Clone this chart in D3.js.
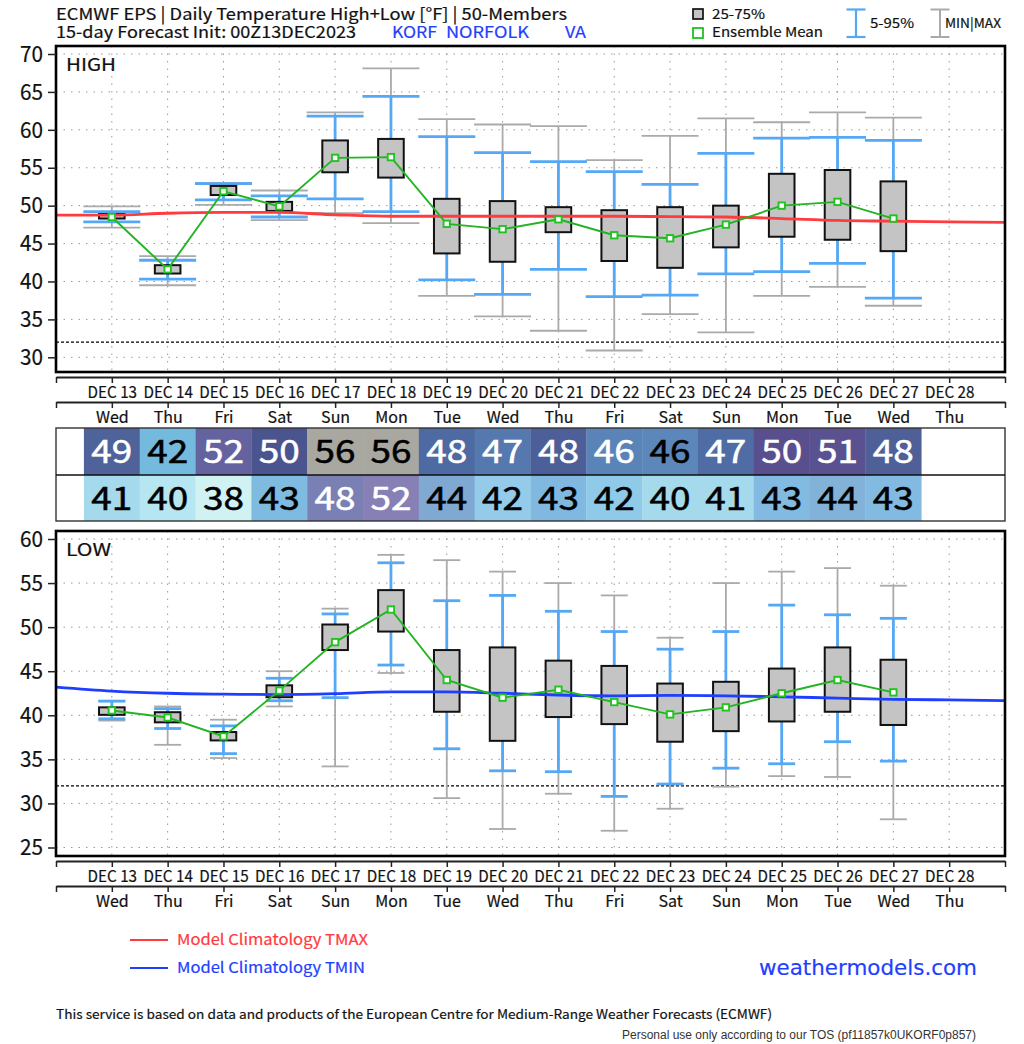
<!DOCTYPE html>
<html>
<head>
<meta charset="utf-8">
<script src="https://cdn.jsdelivr.net/npm/d3@7"></script>
<style>
    html, body { margin: 0; padding: 0; background: #fff; }
    svg { display: block; }
    text { font-family: "Noto Sans CJK JP", "Noto Sans", sans-serif; fill: #111; stroke-width: 0.2; paint-order: stroke; }
    .grid { stroke: #999; stroke-width: 1; stroke-dasharray: 1.5 6; fill: none; }
    .domain { stroke-width: 2; stroke: #222; }
    .tick line { stroke: #222; stroke-width: 1.5; }
</style>
</head>
<body>
<svg id="chart" width="1024" height="1044"></svg>
<script>
// day index 0 = Dec 13
let dates = ["DEC 13", "DEC 14", "DEC 15", "DEC 16", "DEC 17", "DEC 18", "DEC 19", "DEC 20", "DEC 21", "DEC 22", "DEC 23", "DEC 24", "DEC 25", "DEC 26", "DEC 27", "DEC 28"];
let weekdays = ["Wed", "Thu", "Fri", "Sat", "Sun", "Mon", "Tue", "Wed", "Thu", "Fri", "Sat", "Sun", "Mon", "Tue", "Wed", "Thu"];

// HIGH panel
let highMax = [49.9, 43.35, 53.0, 52.0, 62.3, 68.1, 61.4, 60.7, 60.5, 56.0, 59.2, 61.5, 61.0, 62.3, 61.6];
let highP95 = [49.2, 42.8, 52.9, 51.3, 61.8, 64.4, 59.1, 57.0, 55.8, 54.5, 52.8, 56.9, 58.9, 59.0, 58.6];
let highQ75 = [48.9, 42.15, 52.6, 50.5, 58.6, 58.8, 50.9, 50.6, 49.8, 49.4, 49.8, 50.0, 54.2, 54.7, 53.2];
let highMean = [48.5, 41.6, 51.9, 49.9, 56.3, 56.4, 47.6, 46.9, 48.2, 46.1, 45.7, 47.5, 50.0, 50.5, 48.3];
let highQ25 = [48.3, 41.05, 51.4, 49.3, 54.4, 53.7, 43.7, 42.6, 46.5, 42.7, 41.8, 44.5, 45.9, 45.5, 44.0];
let highP5 = [47.85, 40.3, 50.75, 48.5, 50.9, 49.2, 40.2, 38.3, 41.6, 38.0, 38.2, 41.0, 41.3, 42.4, 37.8];
let highMin = [47.1, 39.5, 50.1, 48.1, 49.0, 47.7, 38.1, 35.4, 33.5, 30.9, 35.7, 33.3, 38.1, 39.3, 36.8];
let tmaxDays = [-1, 0, 1, 2, 3, 4, 5, 6, 7, 8, 9, 10, 11, 12, 13, 14, 15, 16];
let tmax = [48.75, 48.75, 49.0, 49.1, 49.1, 48.8, 48.6, 48.6, 48.6, 48.6, 48.6, 48.55, 48.5, 48.3, 48.05, 47.95, 47.85, 47.8];

// LOW panel
let lowMax = [41.65, 41.0, 39.5, 45.0, 52.1, 58.2, 57.6, 56.3, 55.0, 53.6, 48.8, 55.0, 56.3, 56.7, 54.7];
let lowP95 = [41.6, 40.75, 38.8, 44.2, 51.5, 57.3, 53.0, 53.6, 51.8, 49.5, 47.5, 49.5, 52.5, 51.4, 51.0];
let lowQ75 = [40.9, 40.35, 38.1, 43.4, 50.3, 54.2, 47.4, 47.7, 46.2, 45.6, 43.6, 43.8, 45.3, 47.7, 46.3];
let lowMean = [40.55, 39.75, 37.6, 42.8, 48.3, 52.0, 44.0, 42.0, 42.9, 41.5, 40.1, 40.9, 42.5, 44.0, 42.6];
let lowQ25 = [40.05, 39.2, 37.15, 42.05, 47.4, 49.5, 40.4, 37.1, 39.8, 39.0, 37.0, 38.2, 39.3, 40.4, 38.9];
let lowP5 = [39.6, 38.5, 35.65, 41.65, 42.0, 45.7, 36.2, 33.7, 33.6, 30.8, 32.2, 34.0, 34.5, 37.0, 34.8];
let lowMin = [39.4, 36.65, 35.15, 41.0, 34.2, 44.8, 30.6, 27.1, 31.1, 26.9, 29.4, 31.9, 33.1, 33.0, 28.2];
let tmin = [43.2, 42.75, 42.5, 42.4, 42.35, 42.45, 42.65, 42.65, 42.5, 42.3, 42.2, 42.25, 42.2, 42.1, 41.95, 41.8, 41.75, 41.65];

// table rows
let highRow = [49, 42, 52, 50, 56, 56, 48, 47, 48, 46, 46, 47, 50, 51, 48];
let lowRow = [41, 40, 38, 43, 48, 52, 44, 42, 43, 42, 40, 41, 43, 44, 43];
let highRowFill = ["#4f6299", "#74badf", "#6562a0", "#4a5590", "#a8a7a0", "#a8a7a0", "#4e6aa3", "#5578ae", "#4c5f98", "#5a83b8", "#5c87bb", "#4f6ca5", "#594f8e", "#5a5290", "#4f5f98"];
let lowRowFill = ["#a5d9ec", "#b5e6f1", "#d1f2f3", "#7fbae0", "#7a80b3", "#8680b4", "#7fa8d3", "#94cbe9", "#80b8e0", "#90cae9", "#a5d9ec", "#a5d9ec", "#82bae1", "#83b2d9", "#82bae1"];
let highRowInk = ["#fff", "#000", "#fff", "#fff", "#000", "#000", "#fff", "#fff", "#fff", "#fff", "#000", "#fff", "#fff", "#fff", "#fff"];
let lowRowInk = ["#000", "#000", "#000", "#000", "#fff", "#fff", "#000", "#000", "#000", "#000", "#000", "#000", "#000", "#000", "#000"];

let svg = d3.select("#chart");
let x = d3.scaleLinear().domain([-1, 16]).range([56, 1005]);
let allDays = d3.range(-1, 17);

function label(txt, px, py, size, opts) {
    opts = opts || {};
    let color = opts.fill || "#111";
    let t = svg.append("text").attr("x", px).attr("y", py).attr("font-size", size)
        .attr("text-anchor", opts.anchor || "start")
        .style("fill", color).style("stroke", color)
        .text(txt);
    if (opts.len) t.attr("textLength", opts.len).attr("lengthAdjust", "spacingAndGlyphs");
    if (opts.font) t.style("font-family", opts.font);
    return t;
}

function drawPanel(cfg) {
    let y = d3.scaleLinear().domain(cfg.domain).range(cfg.range);
    let g = svg.append("g");

    // dotted grid
    g.selectAll(".hgrid").data(cfg.ticks).join("line").attr("class", "grid")
        .attr("x1", x(-1)).attr("x2", x(16)).attr("y1", d => y(d)).attr("y2", d => y(d));
    g.selectAll(".vgrid").data(d3.range(0, 16)).join("line").attr("class", "grid")
        .attr("x1", d => x(d)).attr("x2", d => x(d)).attr("y1", cfg.top).attr("y2", cfg.bottom);

    // 32F freeze line
    g.append("line").attr("x1", x(-1)).attr("x2", x(16)).attr("y1", y(32)).attr("y2", y(32))
        .attr("stroke", "#000").attr("stroke-width", 1.3).attr("stroke-dasharray", "3 2");

    // min-max then 5-95 whiskers
    let days = d3.range(cfg.max.length);
    function whisker(hi, lo, color, sw, capw) {
        let w = g.append("g").attr("stroke", color).attr("stroke-width", sw);
        w.selectAll(".stem").data(days).join("line")
            .attr("x1", d => x(d)).attr("x2", d => x(d)).attr("y1", d => y(hi[d])).attr("y2", d => y(lo[d]));
        w.selectAll(".top").data(days).join("line")
            .attr("x1", d => x(d) - capw / 2).attr("x2", d => x(d) + capw / 2).attr("y1", d => y(hi[d])).attr("y2", d => y(hi[d]));
        w.selectAll(".bot").data(days).join("line")
            .attr("x1", d => x(d) - capw / 2).attr("x2", d => x(d) + capw / 2).attr("y1", d => y(lo[d])).attr("y2", d => y(lo[d]));
    }
    whisker(cfg.max, cfg.min, "#aaaaaa", 1.8, cfg.capw);
    whisker(cfg.p95, cfg.p5, "#55a8f5", 2.8, cfg.capw);

    // 25-75 boxes
    g.selectAll(".box").data(days).join("rect")
        .attr("x", d => x(d) - 12.8).attr("width", 25.6)
        .attr("y", d => y(cfg.q75[d])).attr("height", d => y(cfg.q25[d]) - y(cfg.q75[d]))
        .attr("fill", "#c4c4c4").attr("stroke", "#111").attr("stroke-width", 2);

    // model climatology
    let clim = d3.line().x((d, i) => x(tmaxDays[i])).y(d => y(d)).curve(d3.curveMonotoneX);
    g.append("path").datum(cfg.clim).attr("d", clim).attr("fill", "none")
        .attr("stroke", cfg.climColor).attr("stroke-width", 2.8);

    // ensemble mean
    let meanLine = d3.line().x((d, i) => x(i)).y(d => y(d));
    g.append("path").datum(cfg.mean).attr("d", meanLine).attr("fill", "none")
        .attr("stroke", "#22b422").attr("stroke-width", 1.9);
    g.selectAll(".mean").data(days).join("rect")
        .attr("x", d => x(d) - 3.2).attr("y", d => y(cfg.mean[d]) - 3.2).attr("width", 6.4).attr("height", 6.4)
        .attr("fill", "#fff").attr("stroke", "#1fc41f").attr("stroke-width", 1.9);

    // frame
    g.append("rect").attr("x", x(-1)).attr("y", cfg.top).attr("width", x(16) - x(-1)).attr("height", cfg.bottom - cfg.top)
        .attr("fill", "none").attr("stroke", "#000").attr("stroke-width", 2.6);

    // y axis
    let yAxis = g.append("g").attr("transform", `translate(${x(-1)},0)`)
        .call(d3.axisLeft(y).tickValues(cfg.ticks).tickSize(8).tickPadding(5));
    yAxis.select(".domain").remove();
    yAxis.selectAll("text").attr("font-size", 22.5).attr("textLength", 23).attr("lengthAdjust", "spacingAndGlyphs")
        .style("fill", "#111").style("stroke", "#111");

    label(cfg.name, 66, cfg.top + 25, 17.5, { len: cfg.nameLen });

    // two date rows below the frame
    let dayLabel = d => (d >= 0 && d < 16 ? dates[d] : "");
    let wkLabel = d => (d >= 0 && d < 16 ? weekdays[d] : "");
    let ax1 = g.append("g").attr("transform", `translate(0,${cfg.bottom + 5})`)
        .call(d3.axisBottom(x).tickValues(allDays).tickFormat(dayLabel).tickSize(6).tickSizeOuter(0).tickPadding(4));
    ax1.selectAll("text").attr("font-size", 16).attr("textLength", d => (d >= 0 && d < 16 ? 49.5 : null))
        .attr("lengthAdjust", "spacingAndGlyphs").style("fill", "#111").style("stroke", "#111");
    let ax2 = g.append("g").attr("transform", `translate(0,${cfg.bottom + 30})`)
        .call(d3.axisBottom(x).tickValues(allDays).tickFormat(wkLabel).tickSize(6).tickSizeOuter(0).tickPadding(4));
    ax2.selectAll("text").attr("font-size", 16).style("fill", "#111").style("stroke", "#111");
}

drawPanel({
    name: "HIGH", nameLen: 50, top: 46, bottom: 372, domain: [30, 70], range: [357.3, 54],
    ticks: d3.range(30, 71, 5), capw: 57, climColor: "#ff3b3f",
    max: highMax, p95: highP95, q75: highQ75, mean: highMean, q25: highQ25, p5: highP5, min: highMin, clim: tmax
});
drawPanel({
    name: "LOW", nameLen: 45, top: 531, bottom: 856, domain: [25, 60], range: [847.5, 539],
    ticks: d3.range(25, 61, 5), capw: 27, climColor: "#1f3fff",
    max: lowMax, p95: lowP95, q75: lowQ75, mean: lowMean, q25: lowQ25, p5: lowP5, min: lowMin, clim: tmin
});

// table between the panels
function drawRow(values, fills, inks, top, h) {
    let g = svg.append("g");
    g.selectAll("rect").data(values).join("rect")
        .attr("x", (d, i) => x(i - 0.5)).attr("width", x(1) - x(0) + 0.3)
        .attr("y", top).attr("height", h).attr("fill", (d, i) => fills[i]);
    g.selectAll("text").data(values).join("text")
        .attr("x", (d, i) => x(i)).attr("y", top + 35)
        .attr("text-anchor", "middle").attr("font-size", 32)
        .attr("textLength", 41).attr("lengthAdjust", "spacingAndGlyphs")
        .style("fill", (d, i) => inks[i]).style("stroke", (d, i) => inks[i]).style("stroke-width", 0.5)
        .text(d => d);
}
drawRow(highRow, highRowFill, highRowInk, 428, 47);
drawRow(lowRow, lowRowFill, lowRowInk, 475, 46);
svg.append("rect").attr("x", x(-1)).attr("y", 428).attr("width", x(16) - x(-1)).attr("height", 93)
    .attr("fill", "none").attr("stroke", "#333").attr("stroke-width", 1.4);
svg.append("line").attr("x1", x(-1)).attr("x2", x(16)).attr("y1", 475).attr("y2", 475)
    .attr("stroke", "#111").attr("stroke-width", 1.4);

// title
label("ECMWF EPS | Daily Temperature High+Low [°F] | 50-Members", 56, 20, 16.5, { len: 511 });
label("15-day Forecast Init: 00Z13DEC2023", 56, 38, 16.5, { len: 300 });
label("KORF", 392, 38, 16.5, { fill: "#1f3fff", len: 45 });
label("NORFOLK", 446, 38, 16.5, { fill: "#1f3fff", len: 83 });
label("VA", 565, 38, 16.5, { fill: "#1f3fff", len: 21 });

// top legend
svg.append("rect").attr("x", 693).attr("y", 9).attr("width", 10).attr("height", 10)
    .attr("fill", "#c4c4c4").attr("stroke", "#111").attr("stroke-width", 1.7);
label("25-75%", 712, 19, 13.5, { len: 53 });
svg.append("rect").attr("x", 693).attr("y", 28).attr("width", 10).attr("height", 10)
    .attr("fill", "#fff").attr("stroke", "#1fc41f").attr("stroke-width", 1.8);
label("Ensemble Mean", 712, 37, 13.5, { len: 111 });

function legendWhisker(cx, color, sw) {
    let w = svg.append("g").attr("stroke", color).attr("stroke-width", sw);
    w.append("line").attr("x1", cx).attr("x2", cx).attr("y1", 9).attr("y2", 37);
    w.append("line").attr("x1", cx - 9.5).attr("x2", cx + 9.5).attr("y1", 9.5).attr("y2", 9.5);
    w.append("line").attr("x1", cx - 9.5).attr("x2", cx + 9.5).attr("y1", 37).attr("y2", 37);
}
legendWhisker(856, "#55a8f5", 2.2);
label("5-95%", 870, 28, 13.5, { len: 44 });
legendWhisker(940, "#aaaaaa", 2);
label("MIN|MAX", 945, 28, 13, { len: 56 });

// bottom legend
let climLegend = [["Model Climatology TMAX", "#ff3b3f", 940, 191], ["Model Climatology TMIN", "#1f3fff", 968, 188]];
climLegend.forEach(d => {
    svg.append("line").attr("x1", 130).attr("x2", 168).attr("y1", d[2]).attr("y2", d[2])
        .attr("stroke", d[1]).attr("stroke-width", 2.2);
    label(d[0], 177, d[2] + 5, 15, { fill: d[1], len: d[3] });
});

label("weathermodels.com", 759, 975, 21, { fill: "#1f3fff", len: 218, font: "'DejaVu Sans', sans-serif" });
label("This service is based on data and products of the European Centre for Medium-Range Weather Forecasts (ECMWF)", 56, 1019, 13, { len: 716 });
label("Personal use only according to our TOS (pf11857k0UKORF0p857)", 622, 1039, 12, { fill: "#333", len: 354, font: "'Liberation Sans', sans-serif" }).style("stroke", "none");
</script>
</body>
</html>
